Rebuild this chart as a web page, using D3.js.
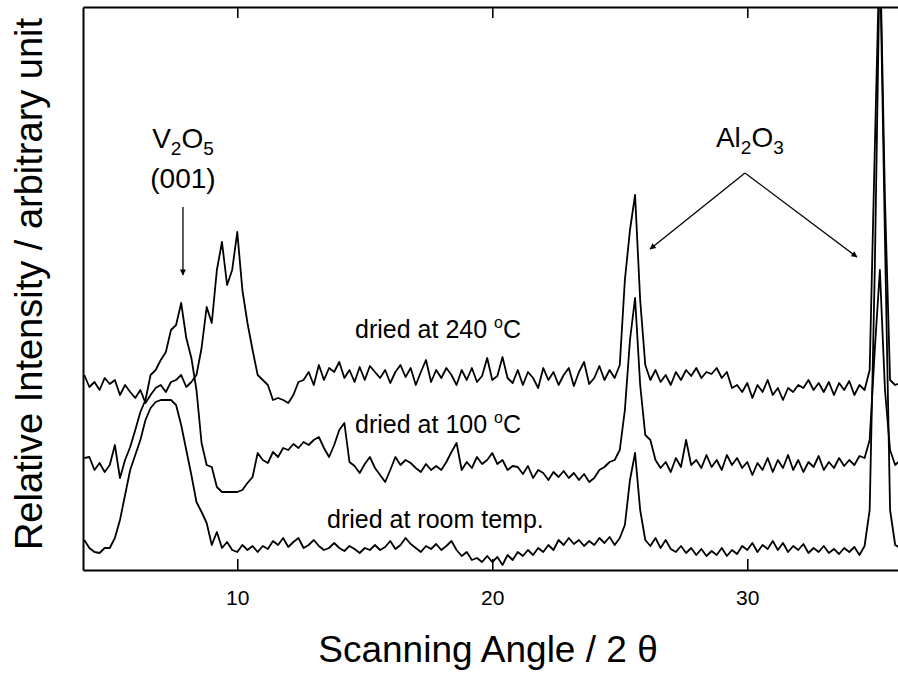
<!DOCTYPE html>
<html>
<head>
<meta charset="utf-8">
<script src="https://cdn.jsdelivr.net/npm/d3@7"></script>
<style>
  html, body { margin: 0; padding: 0; background: #fff; }
  svg { display: block; font-family: "Liberation Sans", Arial, sans-serif; }
</style>
</head>
<body>
<svg id="chart" width="898" height="677"></svg>
<script>
// ---- data (2θ grid and relative intensities, arbitrary units) ----
const angles = [4,4.2,4.4,4.6,4.8,5,5.2,5.4,5.6,5.8,6,6.2,6.4,6.6,6.8,7,7.2,7.4,7.6,7.8,8,8.2,8.4,8.6,8.8,9,9.2,9.4,9.6,9.8,10,10.2,10.4,10.6,10.8,11,11.2,11.4,11.6,11.8,12,12.2,12.4,12.6,12.8,13,13.2,13.4,13.6,13.8,14,14.2,14.4,14.6,14.8,15,15.2,15.4,15.6,15.8,16,16.2,16.4,16.6,16.8,17,17.2,17.4,17.6,17.8,18,18.2,18.4,18.6,18.8,19,19.2,19.4,19.6,19.8,20,20.2,20.4,20.6,20.8,21,21.2,21.4,21.6,21.8,22,22.2,22.4,22.6,22.8,23,23.2,23.4,23.6,23.8,24,24.2,24.4,24.6,24.8,25,25.2,25.4,25.6,25.8,26,26.2,26.4,26.6,26.8,27,27.2,27.4,27.6,27.8,28,28.2,28.4,28.6,28.8,29,29.2,29.4,29.6,29.8,30,30.2,30.4,30.6,30.8,31,31.2,31.4,31.6,31.8,32,32.2,32.4,32.6,32.8,33,33.2,33.4,33.6,33.8,34,34.2,34.4,34.6,34.8,35,35.2,35.4,35.6,35.8,36];

const driedRoomTemp = [
  30,22,18,17,22, 22,32,50,75,100, 115,130,150,162,168, 170,170,170,165,145,
  120,95,68,58,47, 25,38,22,28,20, 18,25,20,24,18, 24,21,29,25,32,
  23,28,32,22,25, 30,24,20,22,27, 22,19,24,21,17, 22,20,25,20,23,
  29,21,25,32,26, 22,18,24,21,26, 20,24,29,20,14, 18,10,12,8,14,
  8,13,5,15,10, 18,14,20,15,22, 18,25,20,30,25, 32,26,30,24,29,
  25,32,27,33,25, 32,45,90,117,60, 30,24,32,22,30, 21,18,24,17,22,
  15,21,14,19,15, 22,14,20,16,24, 20,27,18,25,21, 29,20,27,18,24,
  20,26,17,22,18, 24,17,21,16,22, 18,23,15,24,60, 300,620,330,60,25,
  22];

const dried100 = [
  112,113,100,107,98, 105,125,92,110,123, 140,158,170,195,200, 210,218,240,245,267,
  232,212,180,127,105, 103,83,78,78,78, 78,80,87,93,117, 110,107,118,113,122,
  120,126,122,128,125, 130,133,122,113,125, 140,147,108,104,97, 106,113,102,95,88,
  100,113,105,110,107, 102,98,106,100,104, 100,108,118,127,100, 108,102,113,106,110,
  117,106,110,100,104, 103,96,104,92,100, 97,90,98,93,99, 92,97,90,96,88,
  92,100,103,108,110, 120,160,230,272,185, 135,130,110,102,108, 98,112,103,130,105,
  110,102,115,103,110, 100,115,105,112,102, 108,95,107,100,112, 98,110,102,115,100,
  110,98,108,103,114, 100,108,102,112,104, 110,105,114,112,130, 220,300,180,120,105,
  110];

const dried240 = [
  195,183,188,180,192, 186,190,175,185,178, 172,180,167,175,182, 185,178,188,190,195,
  183,188,195,222,263, 247,300,328,285,300, 338,280,247,220,195, 190,185,170,172,170,
  167,175,188,190,198, 185,205,190,202,198, 208,192,200,188,203, 190,204,198,192,200,
  187,198,205,193,202, 185,198,210,188,200, 192,202,195,185,200, 190,202,188,194,212,
  190,194,213,192,187, 200,185,198,192,182, 202,190,198,185,195, 202,184,198,208,186,
  192,204,190,200,192, 205,290,340,375,270, 205,190,200,188,195, 185,198,190,200,194,
  202,192,198,196,202, 192,198,182,185,178, 187,172,185,178,190, 175,182,170,182,178,
  185,182,190,180,187, 178,188,175,187,180, 189,175,185,180,200, 420,630,370,190,185,
  187];

const seriesNames = ["dried at 240", "dried at 100", "dried at room temp."];
const xTicks = [10, 20, 30];

// ---- layout ----
const W = 898, H = 677;
const plot = { left: 83, right: 899, top: 7, bottom: 570 };
const svg = d3.select("#chart");
svg.append("rect").attr("width", W).attr("height", H).attr("fill", "#fff");

const x = d3.scaleLinear().domain([3.95, 35.95]).range([plot.left, plot.right]);
const y = d3.scaleLinear().domain([0, 563]).range([plot.bottom, plot.top]);

svg.append("defs").append("clipPath").attr("id", "clip")
  .append("rect").attr("x", plot.left).attr("y", plot.top)
  .attr("width", plot.right - plot.left).attr("height", plot.bottom - plot.top);

const marker = svg.select("defs").append("marker")
  .attr("id", "arrow").attr("viewBox", "0 0 10 10")
  .attr("refX", 9).attr("refY", 5)
  .attr("markerWidth", 8).attr("markerHeight", 6)
  .attr("markerUnits", "userSpaceOnUse")
  .attr("orient", "auto");
marker.append("path").attr("d", "M0,0 L10,5 L0,10 Z").attr("fill", "#000");

// ---- curves ----
const line = d3.line().x((d, i) => x(angles[i])).y(d => y(d));
const g = svg.append("g").attr("clip-path", "url(#clip)");
[dried240, dried100, driedRoomTemp].forEach(s => {
  g.append("path").datum(s).attr("d", line)
    .attr("fill", "none").attr("stroke", "#000")
    .attr("stroke-width", 1.8).attr("stroke-linejoin", "round");
});

// ---- axes ----
const axStroke = 2;
const bottomAxis = svg.append("g").attr("transform", `translate(0,${plot.bottom})`)
  .call(d3.axisBottom(x).tickValues(xTicks).tickSizeInner(-11).tickSizeOuter(0).tickPadding(20));
const topAxis = svg.append("g").attr("transform", `translate(0,${plot.top})`)
  .call(d3.axisTop(x).tickValues(xTicks).tickSizeInner(-11).tickSizeOuter(0).tickFormat(""));
const leftAxis = svg.append("g").attr("transform", `translate(${plot.left},0)`)
  .call(d3.axisLeft(y).tickValues([]).tickSizeOuter(0));
[bottomAxis, topAxis, leftAxis].forEach(a => {
  a.selectAll("path.domain").attr("stroke", "#000").attr("stroke-width", axStroke);
  a.selectAll(".tick line").attr("stroke", "#000").attr("stroke-width", 1.6);
});
bottomAxis.selectAll(".tick text")
  .attr("font-size", 21).attr("fill", "#000")
  .attr("font-family", "Liberation Sans, Arial, sans-serif");

// ---- axis titles ----
svg.append("text")
  .attr("x", (316 + 660) / 2).attr("y", 662)
  .attr("text-anchor", "middle").attr("font-size", 37).attr("fill", "#000")
  .text("Scanning Angle / 2 θ");
svg.append("text")
  .attr("transform", "translate(42,284) rotate(-90)")
  .attr("text-anchor", "middle").attr("font-size", 38).attr("fill", "#000")
  .text("Relative Intensity / arbitrary unit");

// ---- series labels ----
const labelFont = 25;
function degLabel(xv, yv, prefix) {
  const t = svg.append("text").attr("x", x(xv)).attr("y", y(yv))
    .attr("font-size", labelFont).attr("fill", "#000");
  t.append("tspan").text(prefix + " ");
  t.append("tspan").attr("dy", -10).attr("font-size", 16).text("o");
  t.append("tspan").attr("dy", 10).text("C");
}
degLabel(14.62, 232, seriesNames[0]);
degLabel(14.62, 137, seriesNames[1]);
svg.append("text").attr("x", x(13.52)).attr("y", y(42))
  .attr("font-size", labelFont).attr("fill", "#000").text(seriesNames[2]);

// ---- V2O5 annotation ----
const v = svg.append("text").attr("x", x(7.87)).attr("y", y(422))
  .attr("text-anchor", "middle").attr("font-size", 28).attr("fill", "#000");
v.append("tspan").text("V");
v.append("tspan").attr("dy", 7).attr("font-size", 19).text("2");
v.append("tspan").attr("dy", -7).text("O");
v.append("tspan").attr("dy", 7).attr("font-size", 19).text("5");
svg.append("text").attr("x", x(7.87)).attr("y", y(382))
  .attr("text-anchor", "middle").attr("font-size", 28).attr("fill", "#000").text("(001)");
svg.append("line")
  .attr("x1", x(7.87)).attr("y1", y(363)).attr("x2", x(7.87)).attr("y2", y(295))
  .attr("stroke", "#000").attr("stroke-width", 1.3).attr("marker-end", "url(#arrow)");

// ---- Al2O3 annotation ----
const a = svg.append("text").attr("x", x(30.1)).attr("y", y(423))
  .attr("text-anchor", "middle").attr("font-size", 28).attr("fill", "#000");
a.append("tspan").text("Al");
a.append("tspan").attr("dy", 7).attr("font-size", 19).text("2");
a.append("tspan").attr("dy", -7).text("O");
a.append("tspan").attr("dy", 7).attr("font-size", 19).text("3");
[[26.19, 321], [34.3, 313]].forEach(([tx, ty]) => {
  svg.append("line")
    .attr("x1", x(29.91)).attr("y1", y(397)).attr("x2", x(tx)).attr("y2", y(ty))
    .attr("stroke", "#000").attr("stroke-width", 1.3).attr("marker-end", "url(#arrow)");
});
</script>
</body>
</html>
